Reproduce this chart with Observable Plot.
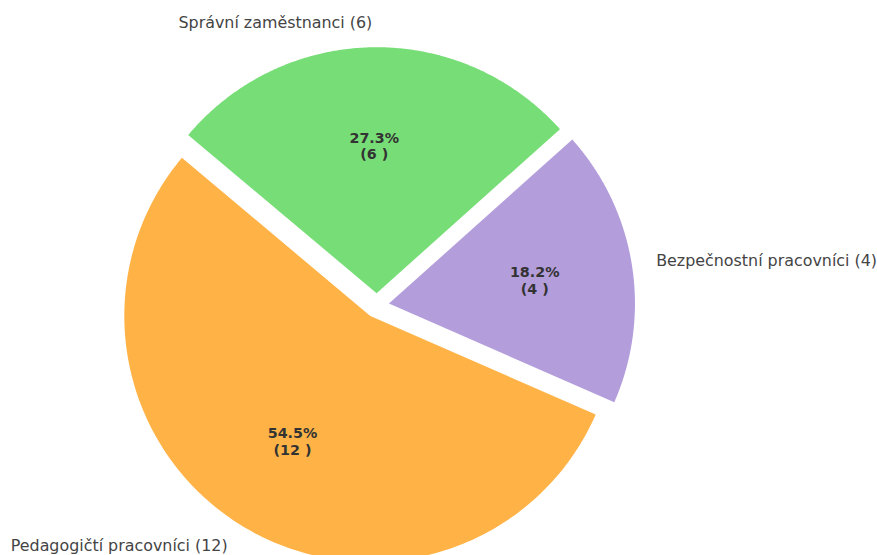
<!DOCTYPE html>
<html>
<head>
<meta charset="utf-8">
<script src="https://cdn.jsdelivr.net/npm/d3@7"></script>
<script src="https://cdn.jsdelivr.net/npm/@observablehq/plot@0.6"></script>
<style>
  html, body { margin: 0; padding: 0; background: #ffffff; }
  #chart { width: 877px; height: 555px; overflow: hidden; }
</style>
</head>
<body>
<div id="chart"></div>
<script>
// ---- data ----
const names = ["Pedagogičtí pracovníci", "Bezpečnostní pracovníci", "Správní zaměstnanci"];
const counts = [12, 4, 6];
const colors = ["#FFB347", "#B39DDB", "#77DD77"];

// ---- pie settings (matplotlib-style) ----
const startAngle = 140;      // degrees, counter-clockwise
const explode = 0.05;        // fraction of radius
const labelDistance = 1.1;
const pctDistance = 0.6;

// ---- layout ----
const W = 877, H = 555;
const cxPx = 376.3, cyPx = 305, Rpx = 246;

const total = d3.sum(counts);
const toRad = (deg) => deg * Math.PI / 180;

const wedgePoints = [];
const labels = [];
let cum = 0;
names.forEach((name, i) => {
  const v = counts[i];
  const t1 = startAngle + 360 * cum / total;
  const t2 = startAngle + 360 * (cum + v) / total;
  cum += v;
  const mid = toRad((t1 + t2) / 2);
  const ox = explode * Math.cos(mid), oy = explode * Math.sin(mid);
  wedgePoints.push({name, x: ox, y: oy});
  const n = 200;
  for (let k = 0; k <= n; k++) {
    const a = toRad(t1 + (t2 - t1) * k / n);
    wedgePoints.push({name, x: ox + Math.cos(a), y: oy + Math.sin(a)});
  }
  wedgePoints.push({name, x: ox, y: oy});
  labels.push({
    name,
    label: `${name} (${v})`,
    lx: ox + labelDistance * Math.cos(mid),
    ly: oy + labelDistance * Math.sin(mid),
    px: ox + pctDistance * Math.cos(mid),
    py: oy + pctDistance * Math.sin(mid),
    pct: `${(100 * v / total).toFixed(1)}%\n(${v} )`
  });
});

const chart = Plot.plot({
  width: W,
  height: H,
  margin: 0,
  style: {fontFamily: "'DejaVu Sans', sans-serif", background: "#ffffff"},
  x: {domain: [-cxPx / Rpx, (W - cxPx) / Rpx], axis: null},
  y: {domain: [-(H - cyPx) / Rpx, cyPx / Rpx], axis: null},
  color: {domain: names, range: colors},
  marks: [
    Plot.line(wedgePoints, {x: "x", y: "y", z: "name", fill: "name", stroke: "none", curve: "linear"}),
    Plot.text(labels, {
      filter: (d) => d.lx >= 0,
      x: "lx", y: "ly", text: "label",
      textAnchor: "start", fontSize: 15.9, fill: "#444444"
    }),
    Plot.text(labels, {
      filter: (d) => d.lx < 0,
      x: "lx", y: "ly", text: "label",
      textAnchor: "end", fontSize: 15.9, fill: "#444444"
    }),
    Plot.text(labels, {
      x: "px", y: "py", text: "pct",
      fontSize: 14.3, fontWeight: "bold", fill: "#333333", lineHeight: 1.14
    })
  ]
});

document.getElementById("chart").appendChild(chart);
</script>
</body>
</html>
